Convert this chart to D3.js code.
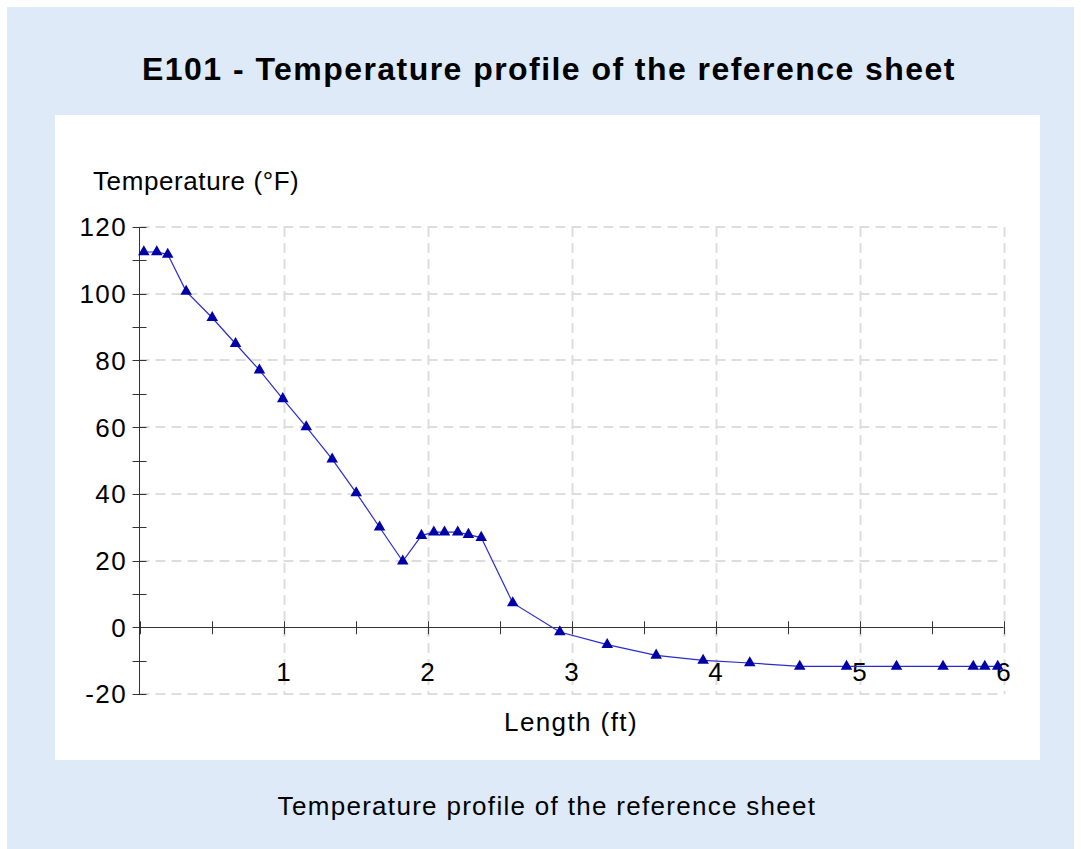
<!DOCTYPE html>
<html>
<head>
<meta charset="utf-8">
<script src="https://cdn.jsdelivr.net/npm/d3@7"></script>
<style>
  html, body { margin: 0; padding: 0; background: #ffffff; }
  svg text { font-family: Arial, "Liberation Sans", sans-serif; fill: #000; }
</style>
</head>
<body>
<svg id="chart" width="1081" height="849"></svg>
<script>
// ---- data ----
const lengthFt = [0.03, 0.12, 0.196, 0.324, 0.505, 0.667, 0.833, 0.995, 1.158, 1.338, 1.505, 1.667, 1.828,
                  1.958, 2.044, 2.118, 2.21, 2.284, 2.373, 2.592, 2.919, 3.248, 3.588, 3.914, 4.238, 4.585,
                  4.91, 5.257, 5.58, 5.79, 5.87, 5.96];
const temperatureF = [112.5, 112.5, 111.8, 100.7, 92.8, 85.0, 77.1, 68.5, 60.1, 50.4, 40.3, 30.0, 19.8,
                      27.5, 28.5, 28.5, 28.5, 27.8, 26.9, 7.3, -1.4, -5.2, -8.4, -9.9, -10.7, -11.7,
                      -11.7, -11.7, -11.7, -11.7, -11.7, -11.7];
const xTickLabels = [1, 2, 3, 4, 5, 6];
const yTickLabels = [-20, 0, 20, 40, 60, 80, 100, 120];
const titleText = "E101 - Temperature profile of the reference sheet";
const yAxisTitle = "Temperature (°F)";
const xAxisTitle = "Length (ft)";
const captionText = "Temperature profile of the reference sheet";

// ---- layout ----
const svg = d3.select("#chart");
svg.append("rect").attr("x", 7).attr("y", 7).attr("width", 1067).attr("height", 842).attr("fill", "#dfeaf8");
svg.append("rect").attr("x", 55).attr("y", 115).attr("width", 985).attr("height", 645).attr("fill", "#ffffff");

const x = d3.scaleLinear().domain([0, 6]).range([139.5, 1003.5]);
const y = d3.scaleLinear().domain([-20, 120]).range([694, 227]);

// grid
const grid = svg.append("g").attr("stroke", "#dddddd").attr("stroke-width", 2).attr("stroke-dasharray", "10,6").attr("fill", "none");
grid.selectAll("line.v").data(xTickLabels).join("line")
  .attr("x1", d => Math.round(x(d)) + 0.5).attr("x2", d => Math.round(x(d)) + 0.5)
  .attr("y1", y(120)).attr("y2", y(-20));
grid.selectAll("line.h").data(yTickLabels.filter(d => d !== 0)).join("line")
  .attr("x1", x(0)).attr("x2", x(6))
  .attr("y1", d => Math.round(y(d))).attr("y2", d => Math.round(y(d)));

// axes
const axisColor = "#333333";
const yAxisG = svg.append("g");
yAxisG.append("line").attr("x1", x(0)).attr("x2", x(0)).attr("y1", y(120)).attr("y2", y(-20)).attr("stroke", axisColor);
yAxisG.selectAll("line.t").data(d3.range(-20, 121, 10)).join("line")
  .attr("x1", x(0) - 7).attr("x2", x(0) + 7)
  .attr("y1", d => Math.round(y(d)) + 0.5).attr("y2", d => Math.round(y(d)) + 0.5)
  .attr("stroke", axisColor);
yAxisG.selectAll("text").data(yTickLabels).join("text")
  .attr("x", 127).attr("y", d => y(d)).attr("dy", "0.36em")
  .attr("text-anchor", "end").attr("font-size", 26).attr("letter-spacing", 1.4)
  .text(d => d);

const xAxisG = svg.append("g");
xAxisG.append("line").attr("x1", x(0)).attr("x2", x(6)).attr("y1", Math.round(y(0)) + 0.5).attr("y2", Math.round(y(0)) + 0.5).attr("stroke", axisColor);
xAxisG.selectAll("line.t").data(d3.range(0, 6.01, 0.5)).join("line")
  .attr("x1", d => Math.round(x(d)) + 0.5).attr("x2", d => Math.round(x(d)) + 0.5)
  .attr("y1", y(0) - 6).attr("y2", y(0) + 7)
  .attr("stroke", axisColor);
xAxisG.selectAll("text").data(xTickLabels).join("text")
  .attr("x", d => x(d)).attr("y", 672).attr("dy", "0.36em")
  .attr("text-anchor", "middle").attr("font-size", 26)
  .text(d => d);

// line + markers
const pts = lengthFt.map((v, i) => [v, temperatureF[i]]);
svg.append("path").datum(pts)
  .attr("d", d3.line().x(d => x(d[0])).y(d => y(d[1])))
  .attr("fill", "none").attr("stroke", "#2a2ad0").attr("stroke-width", 1.2);
svg.selectAll("path.m").data(pts).join("path")
  .attr("class", "m")
  .attr("transform", d => `translate(${x(d[0])},${y(d[1])})`)
  .attr("d", d3.symbol(d3.symbolTriangle, 58))
  .attr("fill", "#0000a8");

// texts
svg.append("text").attr("x", 549).attr("y", 68).attr("dy", "0.36em").attr("text-anchor", "middle")
  .attr("font-size", 32).attr("font-weight", "bold").attr("letter-spacing", 1.45).text(titleText);
svg.append("text").attr("x", 93).attr("y", 181).attr("dy", "0.36em").attr("text-anchor", "start")
  .attr("font-size", 26).attr("letter-spacing", 0.6).text(yAxisTitle);
svg.append("text").attr("x", 571).attr("y", 722).attr("dy", "0.36em").attr("text-anchor", "middle")
  .attr("font-size", 26).attr("letter-spacing", 1.4).text(xAxisTitle);
svg.append("text").attr("x", 547).attr("y", 806).attr("dy", "0.36em").attr("text-anchor", "middle")
  .attr("font-size", 26).attr("letter-spacing", 1.3).text(captionText);
</script>
</body>
</html>
